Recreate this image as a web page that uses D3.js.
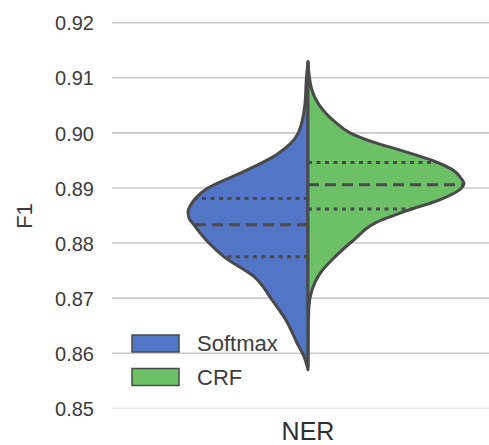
<!DOCTYPE html>
<html>
<head>
<meta charset="utf-8">
<script src="https://cdn.jsdelivr.net/npm/d3@7"></script>
<style>
  html, body { margin: 0; padding: 0; background: #ffffff; }
  svg { display: block; font-family: "Liberation Sans", Arial, sans-serif; }
</style>
</head>
<body>
<svg id="chart" width="489" height="445"></svg>
<script>
// Category on the x axis
const categories = ["NER"];

// Series names and colours
const seriesNames = ["Softmax", "CRF"];
const seriesColors = ["#5275C6", "#6CC167"];

// Density profile of Softmax F1 scores (F1 value, relative density)
const softmaxF1 = [0.9129, 0.9100, 0.9051, 0.9000, 0.8960, 0.8930, 0.8899, 0.8882, 0.8870, 0.8857,
                   0.8845, 0.8833, 0.8800, 0.8775, 0.8739, 0.8697, 0.8660, 0.8619, 0.8594, 0.8570];
const softmaxDensity = [0, 0.010, 0.020, 0.062, 0.205, 0.41, 0.647, 0.718, 0.750, 0.769,
                        0.762, 0.731, 0.635, 0.538, 0.346, 0.231, 0.141, 0.071, 0.026, 0];

// Density profile of CRF F1 scores
const crfF1 = [0.9129, 0.9081, 0.9051, 0.9020, 0.9000, 0.8984, 0.8966, 0.8948, 0.8930, 0.8918,
               0.8908, 0.8902, 0.8896, 0.8878, 0.8860, 0.8836, 0.8806, 0.8775, 0.8745, 0.8715,
               0.8685, 0.8640, 0.8575];
const crfDensity = [0, 0.022, 0.071, 0.173, 0.269, 0.41, 0.622, 0.814, 0.942, 0.980,
                    1.0, 0.990, 0.968, 0.84, 0.647, 0.429, 0.295, 0.173, 0.077, 0.026,
                    0.006, 0.002, 0];

// Quartiles (Q1, median, Q3)
const softmaxQuartiles = [0.8775, 0.8833, 0.8881];
const crfQuartiles = [0.8862, 0.8906, 0.8946];

// Y axis ticks
const yTicks = [0.85, 0.86, 0.87, 0.88, 0.89, 0.90, 0.91, 0.92];

const svg = d3.select("#chart");
const plot = { left: 112, right: 489, top: 22.7, bottom: 408.3 };

const y = d3.scaleLinear().domain([0.85, 0.92]).range([plot.bottom, plot.top]);
const x = d3.scaleBand().domain(categories).range([plot.left + 15, plot.right + 0]).padding(0);
const halfWidth = d3.scaleLinear().domain([0, 1]).range([0, 156]);

const edge = "#4a4a4a";

// Horizontal grid lines
svg.append("g")
  .selectAll("line")
  .data(yTicks)
  .join("line")
  .attr("x1", plot.left).attr("x2", plot.right)
  .attr("y1", d => y(d)).attr("y2", d => y(d))
  .attr("stroke", "#c9c9c9")
  .attr("stroke-width", 1.6)
  .attr("stroke-opacity", d => d === 0.85 ? 0.4 : 1);

// Y axis labels
const yAxis = d3.axisLeft(y).tickValues(yTicks).tickFormat(d3.format(".2f")).tickSize(0).tickPadding(0);
const yg = svg.append("g").attr("transform", `translate(${plot.left - 18},0)`).call(yAxis);
yg.select(".domain").remove();
yg.selectAll("text")
  .attr("font-size", 20)
  .attr("fill", "#3c3c3c")
  .attr("font-family", "Liberation Sans, Arial, sans-serif")
  .attr("dy", "0.36em");

// X axis label
const xAxis = d3.axisBottom(x).tickSize(0).tickPadding(0);
const xg = svg.append("g").attr("transform", `translate(0,${plot.bottom})`).call(xAxis);
xg.select(".domain").remove();
xg.selectAll("text")
  .attr("font-size", 25)
  .attr("fill", "#2e2e2e")
  .attr("font-family", "Liberation Sans, Arial, sans-serif")
  .attr("y", 0)
  .attr("dy", "1.25em");

// Y axis title
svg.append("text")
  .attr("transform", `translate(32,216) rotate(-90)`)
  .attr("text-anchor", "middle")
  .attr("font-size", 22)
  .attr("fill", "#3c3c3c")
  .text("F1");

const cx = x("NER") + x.bandwidth() / 2;

function halfViolin(values, dens, side, color, quartiles) {
  const pts = values.map((v, i) => ({ v, d: dens[i] }));
  const area = d3.area()
    .y(p => y(p.v))
    .x0(cx)
    .x1(p => cx + side * halfWidth(p.d))
    .curve(d3.curveMonotoneY);
  svg.append("path")
    .datum(pts)
    .attr("d", area)
    .attr("fill", color)
    .attr("stroke", edge)
    .attr("stroke-width", 3)
    .attr("stroke-linejoin", "round");

  const densAt = d3.scaleLinear().domain(values).range(dens);
  svg.append("g")
    .selectAll("line")
    .data(quartiles)
    .join("line")
    .attr("x1", cx)
    .attr("x2", q => cx + side * halfWidth(densAt(q)))
    .attr("y1", q => y(q)).attr("y2", q => y(q))
    .attr("stroke", edge)
    .attr("stroke-width", 3)
    .attr("stroke-dasharray", (q, i) => i === 1 ? "11,6" : "4,4.5");
}

halfViolin(softmaxF1, softmaxDensity, -1, seriesColors[0], softmaxQuartiles);
halfViolin(crfF1, crfDensity, 1, seriesColors[1], crfQuartiles);

// Legend
const legend = svg.append("g").attr("transform", "translate(132,335)");
const item = legend.selectAll("g")
  .data(seriesNames)
  .join("g")
  .attr("transform", (d, i) => `translate(0,${i * 33.5})`);
item.append("rect")
  .attr("width", 47).attr("height", 17)
  .attr("fill", (d, i) => seriesColors[i])
  .attr("stroke", edge)
  .attr("stroke-width", 1.5);
item.append("text")
  .attr("x", 65).attr("y", 16)
  .attr("font-size", 22)
  .attr("fill", "#3c3c3c")
  .text(d => d);
</script>
</body>
</html>
